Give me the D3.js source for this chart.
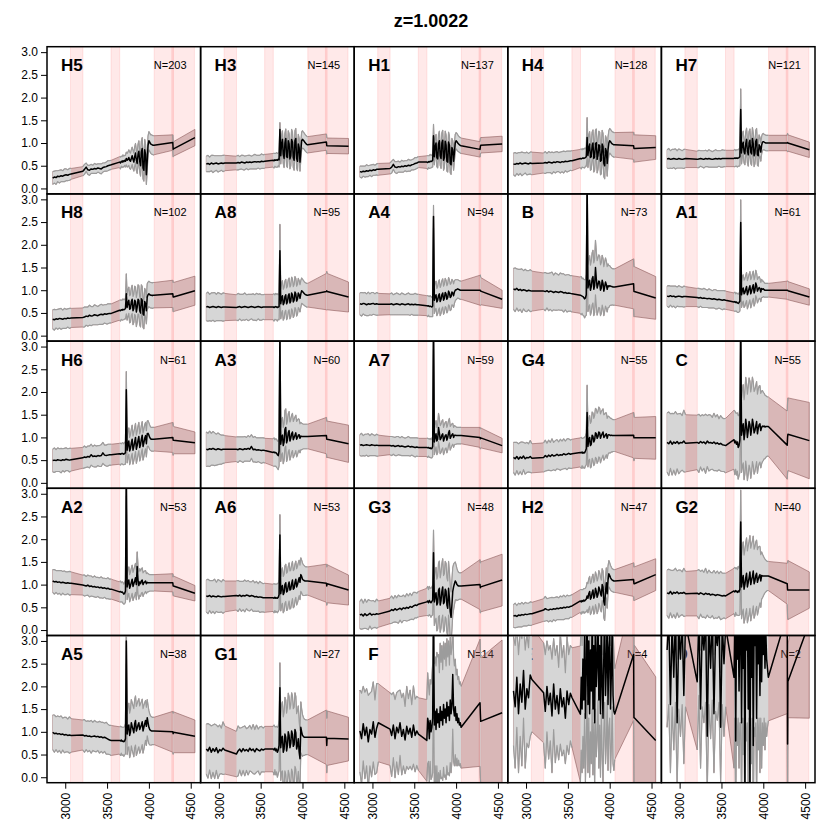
<!DOCTYPE html>
<html><head><meta charset="utf-8">
<script src="https://cdn.jsdelivr.net/npm/d3@7"></script>
<style>
body{margin:0;background:#fff}
svg{display:block}
text{font-family:"Liberation Sans",Arial,Helvetica,sans-serif}
</style>
</head><body>
<svg id="chart" width="830" height="830"></svg>
<script>
const titleText = "z=1.0022";
const panelNames = ["H5","H3","H1","H4","H7","H8","A8","A4","B","A1","H6","A3","A7","G4","C","A2","A6","G3","H2","G2","A5","G1","F","E","D"];
const panelCounts = [203,145,137,128,121,102,95,94,73,61,61,60,59,55,55,53,53,48,47,40,38,27,14,4,2];
const xTicks = [3000,3500,4000,4500];
const yTicks = [0,0.5,1,1.5,2,2.5,3];
const maskBands = [[3063,3211],[3548,3651],[4063,4294],[4274,4544]];
const waveGrid = [2850,2870,2890,2910,2930,2950,2970,2990,3010,3030,3050,3070,
3210,3230,3250,3270,3290,3310,3330,3350,3370,3390,3410,3430,3450,3470,3490,3510,3530,3550,
3650,3660,3670,3680,3690,3700,3710,3720,3730,3740,3750,3760,3770,3780,3790,3800,3810,3820,3830,3840,3850,3860,3870,3880,3890,3900,3910,3920,3930,3940,3950,3960,3970,3980,3990,4000,4010,4020,4030,4040,4050,4060,
4286,4290,4294,4550];
const segmentRanges = [[0,11],[12,29],[30,71],[72,74]];

const mean_H5=[0.23,0.25,0.24,0.27,0.26,0.28,0.27,0.29,0.30,0.29,0.31,0.32,
0.38,0.42,0.47,0.41,0.40,0.43,0.42,0.44,0.43,0.45,0.44,0.43,0.46,0.47,0.48,0.50,0.51,0.52,
0.58,0.56,0.60,0.58,0.61,0.59,0.62,0.60,0.66,
0.62,0.64,0.68,0.62,0.60,0.66,0.72,0.64,0.58,0.70,0.78,0.62,0.55,0.75,0.82,0.60,0.50,0.80,0.88,0.45,0.40,0.85,0.75,0.30,0.60,0.95,1.05,1.02,0.98,0.97,0.96,0.95,0.95,
1.01,0.86,0.87,1.12];
const sd_H5=[.14,.13,.15,.12,.14,.13,.12,.14,.13,.12,.13,.12,
.10,.11,.09,.10,.11,.10,.09,.11,.10,.09,.10,.11,.10,.09,.10,.11,.10,.10,
.12,.13,.11,.12,.13,.12,.11,.13,.14,
.15,.16,.17,.18,.18,.19,.19,.20,.20,.21,.21,.22,.22,.22,.23,.23,.23,.24,.24,.24,.24,.23,.22,.21,.20,.20,.20,.20,.20,.21,.21,.21,.21,
.17,.16,.16,.18];

const mean_H3=[0.54,0.55,0.53,0.56,0.54,0.55,0.56,0.54,0.55,0.56,0.55,0.56,
0.56,0.57,0.56,0.58,0.57,0.56,0.58,0.57,0.58,0.57,0.58,0.59,0.58,0.59,0.58,0.60,0.59,0.60,
0.62,0.61,0.63,0.62,0.63,0.62,0.64,0.63,1.30,
0.72,0.98,1.08,0.75,0.66,1.00,1.10,0.70,0.68,1.05,0.98,0.65,0.72,1.08,1.02,0.68,0.62,1.05,1.10,0.66,0.60,0.98,0.90,0.58,0.82,1.05,1.08,1.06,1.04,1.01,0.99,0.97,0.96,
1.02,0.94,0.94,0.93];
const sd_H3=[.17,.18,.16,.17,.19,.17,.16,.18,.17,.16,.18,.17,
.15,.16,.14,.15,.16,.15,.14,.16,.15,.14,.15,.16,.15,.14,.15,.16,.15,.15,
.15,.16,.14,.15,.16,.15,.14,.16,.15,
.18,.19,.19,.20,.20,.21,.21,.21,.22,.22,.22,.22,.22,.22,.22,.22,.22,.22,.22,.21,.21,.21,.20,.20,.20,.19,.19,.18,.18,.18,.18,.18,.18,
.18,.18,.17,.17];

const mean_H1=[0.37,0.36,0.38,0.37,0.39,0.38,0.40,0.39,0.41,0.40,0.42,0.42,
0.44,0.47,0.53,0.47,0.46,0.48,0.47,0.49,0.48,0.50,0.49,0.51,0.50,0.52,0.53,0.55,0.56,0.58,
0.58,0.57,0.59,0.58,0.60,0.59,0.60,0.62,1.16,
0.70,0.92,1.00,0.68,0.65,0.98,1.05,0.72,0.66,1.00,1.06,0.62,0.68,1.04,0.96,0.60,0.58,1.02,0.95,0.55,0.52,0.90,0.85,0.60,0.80,1.00,1.05,1.03,1.00,0.98,0.96,0.95,0.94,
0.86,0.92,0.95,0.98];
const sd_H1=[.12,.13,.11,.12,.13,.12,.11,.13,.12,.11,.12,.13,
.12,.13,.11,.12,.13,.12,.11,.13,.12,.11,.12,.13,.12,.11,.12,.13,.12,.12,
.14,.15,.13,.14,.15,.14,.13,.15,.25,
.18,.19,.19,.20,.20,.21,.21,.21,.22,.22,.22,.22,.22,.22,.22,.22,.22,.22,.21,.21,.21,.20,.20,.20,.19,.19,.18,.18,.18,.17,.17,.17,.17,
.17,.17,.17,.17];

const mean_H4=[0.54,0.53,0.55,0.54,0.56,0.54,0.55,0.56,0.55,0.54,0.56,0.55,
0.56,0.57,0.56,0.58,0.57,0.56,0.58,0.57,0.59,0.58,0.57,0.59,0.58,0.60,0.59,0.60,0.61,0.61,
0.66,0.65,0.66,0.67,0.66,0.67,0.68,0.70,1.12,
0.72,0.90,0.98,0.68,0.70,0.95,1.00,0.66,0.70,0.98,1.01,0.64,0.72,0.96,0.94,0.60,0.62,0.98,0.92,0.55,0.50,0.88,0.82,0.55,0.85,1.00,1.05,1.03,1.00,0.98,0.97,0.96,0.96,
0.94,0.88,0.88,0.90];
const sd_H4=[.24,.26,.22,.25,.23,.26,.24,.22,.25,.23,.24,.25,
.22,.24,.21,.23,.22,.24,.21,.23,.22,.21,.23,.22,.24,.21,.23,.22,.21,.22,
.20,.22,.19,.21,.20,.22,.19,.21,.44,
.26,.27,.27,.28,.28,.29,.29,.30,.30,.30,.30,.30,.30,.30,.30,.30,.30,.30,.29,.29,.29,.28,.28,.28,.28,.27,.27,.27,.27,.27,.27,.27,.27,
.30,.30,.30,.26];

const mean_H7=[0.65,0.66,0.64,0.65,0.66,0.65,0.64,0.66,0.65,0.64,0.65,0.66,
0.64,0.65,0.66,0.65,0.64,0.66,0.65,0.66,0.65,0.64,0.65,0.66,0.65,0.66,0.65,0.66,0.66,0.66,
0.66,0.67,0.66,0.67,0.66,0.67,0.68,0.70,1.74,
0.78,0.95,1.02,0.80,0.76,0.98,1.08,0.82,0.74,1.00,1.06,0.80,0.76,1.10,0.98,0.72,0.78,1.04,1.08,0.74,0.72,0.96,0.92,0.80,0.95,1.02,1.03,1.02,1.01,1.00,1.00,1.00,1.00,
1.00,1.01,1.00,0.85];
const sd_H7=[.20,.22,.19,.21,.20,.22,.19,.21,.20,.19,.21,.20,
.18,.19,.17,.18,.19,.18,.17,.19,.18,.17,.18,.19,.18,.17,.18,.19,.18,.18,
.18,.19,.17,.18,.19,.18,.19,.20,.45,
.24,.24,.24,.24,.24,.25,.25,.25,.25,.25,.25,.25,.25,.24,.24,.24,.24,.24,.24,.23,.23,.22,.21,.20,.19,.18,.18,.17,.17,.17,.17,.17,.17,
.17,.20,.18,.17];

const mean_H8=[0.36,0.35,0.37,0.36,0.38,0.37,0.36,0.38,0.37,0.39,0.38,0.39,
0.40,0.41,0.43,0.42,0.45,0.43,0.44,0.46,0.45,0.44,0.46,0.47,0.46,0.48,0.47,0.48,0.49,0.49,
0.56,0.55,0.57,0.56,0.58,0.57,0.58,0.60,0.92,
0.62,0.72,0.78,0.58,0.60,0.75,0.80,0.55,0.60,0.78,0.75,0.52,0.62,0.80,0.78,0.55,0.50,0.81,0.78,0.48,0.45,0.75,0.70,0.55,0.85,0.90,0.92,0.90,0.89,0.89,0.88,0.89,0.89,
0.92,0.85,0.85,0.99];
const sd_H8=[.21,.23,.20,.22,.21,.23,.20,.22,.21,.20,.22,.21,
.21,.22,.20,.21,.22,.21,.20,.22,.21,.20,.21,.22,.21,.20,.21,.22,.21,.21,
.22,.23,.21,.22,.23,.22,.21,.23,.44,
.28,.29,.29,.30,.30,.30,.31,.31,.31,.31,.32,.32,.32,.32,.32,.31,.31,.31,.30,.30,.30,.29,.29,.29,.29,.28,.28,.28,.28,.28,.28,.28,.28,
.30,.32,.32,.32];

const mean_A8=[0.63,0.64,0.62,0.63,0.64,0.63,0.62,0.64,0.63,0.62,0.63,0.63,
0.62,0.63,0.64,0.62,0.63,0.64,0.63,0.62,0.63,0.64,0.63,0.62,0.63,0.64,0.63,0.62,0.63,0.63,
0.63,0.62,0.63,0.64,0.63,0.62,0.63,0.64,1.87,
0.70,0.82,0.88,0.68,0.72,0.86,0.90,0.70,0.74,0.88,0.92,0.72,0.76,0.94,0.90,0.74,0.78,0.96,0.92,0.76,0.80,0.94,0.90,0.82,0.92,0.99,0.97,0.95,0.93,0.91,0.90,0.89,0.89,
0.97,0.99,0.97,0.85];
const sd_A8=[.30,.32,.29,.31,.30,.32,.29,.31,.30,.29,.31,.30,
.28,.30,.27,.29,.28,.30,.27,.29,.28,.27,.29,.28,.30,.27,.29,.28,.27,.28,
.28,.30,.27,.29,.28,.30,.27,.29,.58,
.33,.33,.33,.34,.34,.34,.34,.35,.35,.35,.35,.35,.35,.35,.35,.34,.34,.34,.34,.33,.33,.32,.31,.30,.29,.28,.27,.27,.26,.26,.26,.26,.26,
.40,.42,.40,.33];

const mean_A4=[0.70,0.69,0.71,0.70,0.68,0.70,0.69,0.70,0.71,0.69,0.70,0.69,
0.69,0.70,0.68,0.69,0.70,0.69,0.68,0.70,0.69,0.68,0.69,0.70,0.68,0.69,0.68,0.69,0.68,0.68,
0.66,0.65,0.66,0.64,0.65,0.64,0.63,0.65,2.62,
0.78,0.86,0.90,0.74,0.78,0.88,0.92,0.75,0.80,0.90,0.94,0.78,0.82,0.95,0.92,0.80,0.84,0.98,0.94,0.84,0.86,0.96,0.94,0.88,0.96,1.00,1.01,1.02,1.03,1.02,1.01,1.00,1.00,
1.00,1.00,0.98,0.80];
const sd_A4=[.24,.26,.23,.25,.24,.26,.23,.25,.24,.23,.25,.24,
.23,.24,.22,.23,.24,.23,.22,.24,.23,.22,.23,.24,.23,.22,.23,.24,.23,.23,
.22,.23,.21,.22,.23,.22,.21,.23,.25,
.29,.29,.30,.30,.30,.31,.31,.31,.31,.31,.31,.31,.31,.31,.30,.30,.30,.30,.29,.29,.29,.28,.27,.26,.25,.23,.22,.21,.20,.20,.20,.20,.20,
.33,.33,.30,.20];

const mean_B=[1.03,1.01,1.04,1.00,1.02,0.99,1.01,1.00,0.98,1.00,0.99,0.98,
0.98,0.97,0.99,0.96,0.98,0.97,0.95,0.97,0.96,0.95,0.97,0.96,0.94,0.95,0.93,0.94,0.93,0.92,
0.89,0.88,0.87,0.86,0.84,0.81,0.83,0.90,3.40,
1.05,1.15,1.22,1.00,1.08,1.25,1.30,1.02,1.10,1.50,1.25,1.05,1.12,1.20,1.18,1.00,1.05,1.22,1.15,0.98,1.08,1.18,1.12,1.02,1.10,1.08,1.10,1.09,1.08,1.08,1.07,1.07,1.07,
1.14,0.97,0.97,0.83];
const sd_B=[.45,.48,.43,.46,.44,.48,.42,.46,.45,.43,.46,.44,
.40,.42,.38,.41,.40,.43,.38,.41,.40,.38,.41,.40,.42,.38,.41,.40,.39,.40,
.40,.42,.38,.41,.40,.42,.40,.45,.60,
.52,.53,.54,.55,.56,.57,.58,.58,.59,.60,.60,.60,.59,.58,.57,.56,.56,.55,.55,.54,.54,.53,.52,.50,.48,.46,.44,.42,.41,.40,.40,.40,.40,
.55,.55,.55,.47];

const mean_A1=[0.87,0.86,0.88,0.86,0.87,0.85,0.86,0.87,0.86,0.85,0.86,0.86,
0.84,0.83,0.84,0.82,0.83,0.82,0.81,0.82,0.81,0.80,0.81,0.80,0.79,0.80,0.79,0.78,0.79,0.78,
0.74,0.75,0.73,0.74,0.72,0.71,0.73,0.76,2.49,
0.90,1.00,1.05,0.92,0.95,1.02,1.08,0.90,0.96,1.04,1.10,0.92,0.98,1.06,1.12,0.94,1.00,1.16,1.10,0.98,1.02,1.06,1.04,0.96,1.04,1.02,1.03,1.01,1.00,1.00,1.00,1.00,1.00,
1.00,1.00,0.99,0.85];
const sd_A1=[.22,.24,.21,.23,.22,.24,.21,.23,.22,.21,.23,.22,
.20,.21,.19,.20,.21,.20,.19,.21,.20,.19,.20,.21,.20,.19,.20,.21,.20,.20,
.20,.21,.19,.20,.21,.20,.21,.22,.50,
.28,.29,.29,.30,.30,.30,.31,.31,.31,.31,.31,.31,.30,.30,.30,.29,.29,.28,.27,.26,.25,.24,.22,.21,.20,.18,.17,.16,.15,.15,.15,.15,.15,
.20,.20,.20,.18];

const mean_H6=[0.49,0.50,0.49,0.51,0.50,0.49,0.51,0.50,0.52,0.51,0.50,0.51,
0.55,0.57,0.56,0.58,0.57,0.62,0.58,0.59,0.58,0.60,0.59,0.60,0.66,0.61,0.60,0.61,0.62,0.62,
0.64,0.63,0.64,0.65,0.64,0.63,0.65,0.66,2.05,
0.72,0.85,0.92,0.70,0.76,0.88,0.96,0.72,0.80,0.90,1.00,0.74,0.82,0.94,1.02,0.78,0.84,0.96,1.05,0.80,0.88,0.98,1.04,0.86,1.08,1.09,1.05,1.00,0.97,0.96,0.96,0.96,0.96,
1.00,0.94,0.94,0.88];
const sd_H6=[.25,.27,.24,.26,.25,.27,.24,.26,.25,.24,.26,.25,
.23,.24,.22,.23,.24,.23,.22,.24,.23,.22,.23,.24,.23,.22,.23,.24,.23,.23,
.23,.24,.22,.23,.24,.23,.24,.25,.40,
.28,.29,.29,.30,.30,.30,.31,.31,.31,.31,.31,.31,.31,.31,.31,.30,.30,.30,.30,.30,.30,.30,.29,.29,.28,.28,.27,.27,.26,.26,.26,.26,.26,
.33,.33,.30,.24];

const mean_A3=[0.74,0.73,0.75,0.74,0.76,0.74,0.73,0.75,0.74,0.73,0.74,0.74,
0.74,0.73,0.75,0.74,0.73,0.75,0.74,0.76,0.74,0.80,0.73,0.74,0.72,0.73,0.72,0.71,0.72,0.71,
0.67,0.68,0.66,0.67,0.65,0.62,0.60,0.70,3.40,
0.85,1.00,1.05,0.82,0.90,1.18,1.22,0.88,0.95,1.10,1.15,0.92,0.98,1.08,1.12,0.95,1.00,1.05,1.10,0.96,1.00,1.05,1.06,0.98,1.03,1.02,1.02,1.02,1.02,1.02,1.02,1.02,1.02,
1.04,0.96,0.96,0.86];
const sd_A3=[.38,.36,.39,.35,.37,.36,.34,.35,.33,.32,.31,.30,
.27,.28,.26,.27,.28,.27,.26,.28,.27,.26,.27,.28,.27,.26,.27,.28,.27,.27,
.30,.31,.29,.30,.31,.30,.31,.32,.45,
.38,.39,.39,.40,.40,.41,.41,.41,.42,.42,.42,.42,.41,.41,.41,.40,.40,.40,.39,.39,.38,.36,.34,.32,.30,.29,.28,.27,.27,.27,.27,.27,.27,
.40,.40,.40,.41];

const mean_A7=[0.83,0.84,0.82,0.83,0.84,0.83,0.82,0.84,0.83,0.82,0.83,0.82,
0.82,0.81,0.82,0.80,0.81,0.82,0.80,0.81,0.80,0.79,0.80,0.81,0.79,0.80,0.79,0.78,0.79,0.78,
0.78,0.77,0.78,0.76,0.77,0.75,0.76,0.80,3.40,
0.90,1.00,1.08,0.92,0.96,1.22,1.10,0.95,0.98,1.05,1.08,0.92,0.98,1.04,1.06,0.94,1.00,1.10,1.15,0.98,1.02,1.06,1.08,1.00,1.05,1.05,1.04,1.04,1.04,1.04,1.04,1.04,1.04,
1.00,0.97,0.99,0.82];
const sd_A7=[.23,.25,.22,.24,.23,.25,.22,.24,.23,.22,.24,.23,
.20,.21,.19,.20,.21,.20,.19,.21,.20,.19,.20,.21,.20,.19,.20,.21,.20,.20,
.20,.21,.19,.20,.21,.20,.21,.22,.45,
.28,.29,.29,.30,.30,.31,.31,.31,.31,.31,.31,.30,.30,.29,.29,.28,.28,.27,.27,.26,.25,.24,.23,.22,.21,.20,.19,.18,.18,.18,.18,.18,.18,
.22,.22,.22,.16];

const mean_G4=[0.56,0.53,0.58,0.52,0.57,0.54,0.59,0.53,0.56,0.55,0.58,0.54,
0.56,0.60,0.57,0.61,0.58,0.62,0.59,0.60,0.63,0.60,0.62,0.61,0.64,0.62,0.63,0.65,0.63,0.64,
0.67,0.66,0.68,0.65,0.67,0.66,0.70,0.75,1.55,
0.80,0.95,1.00,0.82,0.85,1.05,1.02,0.90,0.95,1.10,1.08,0.98,1.02,1.12,1.10,0.98,1.04,1.08,1.12,1.00,1.02,1.06,1.08,0.98,1.05,1.06,1.05,1.04,1.05,1.04,1.04,1.04,1.04,
1.05,0.99,0.99,0.99];
const sd_G4=[.33,.36,.31,.34,.32,.36,.30,.34,.33,.31,.35,.32,
.32,.34,.30,.33,.31,.35,.30,.33,.32,.30,.34,.31,.33,.30,.34,.32,.31,.32,
.32,.34,.30,.33,.32,.34,.33,.35,.60,
.45,.46,.48,.49,.50,.51,.52,.52,.53,.54,.54,.55,.55,.55,.54,.54,.53,.52,.51,.50,.49,.48,.46,.44,.42,.40,.39,.38,.37,.36,.35,.35,.35,
.50,.50,.45,.47];

const mean_C=[0.89,0.86,0.92,0.85,0.90,0.87,0.91,0.86,0.89,0.88,0.92,0.87,
0.89,0.87,0.91,0.88,0.90,0.86,0.92,0.88,0.89,0.87,0.90,0.86,0.88,0.85,0.87,0.84,0.83,0.82,
0.95,0.88,0.92,0.85,0.90,0.78,0.82,0.95,3.40,
1.05,1.20,1.30,0.95,1.10,1.40,1.25,1.00,1.15,1.35,1.28,1.05,1.18,1.40,1.30,1.10,1.15,1.25,1.35,1.08,1.20,1.28,1.30,1.15,1.22,1.25,1.24,1.25,1.23,1.24,1.24,1.24,1.24,
0.83,1.00,1.07,0.93];
const sd_C=[.65,.70,.60,.68,.62,.70,.60,.66,.64,.60,.68,.63,
.60,.64,.56,.62,.58,.65,.56,.62,.60,.57,.63,.59,.62,.56,.61,.59,.58,.60,
.65,.70,.62,.68,.64,.70,.66,.72,.90,
.82,.84,.86,.88,.90,.92,.94,.95,.96,.96,.96,.95,.94,.93,.92,.91,.90,.89,.88,.87,.86,.85,.84,.82,.80,.78,.75,.72,.70,.68,.66,.65,.65,
.75,.78,.80,.84];

const mean_A2=[1.08,1.06,1.07,1.05,1.06,1.04,1.05,1.04,1.03,1.04,1.03,1.03,
0.99,0.98,0.97,0.99,0.96,0.97,0.95,0.96,0.94,0.95,0.93,0.94,0.92,0.93,0.91,0.92,0.90,0.90,
0.84,0.85,0.83,0.84,0.82,0.79,0.81,0.86,3.40,
0.95,1.05,1.10,0.92,0.98,1.05,1.12,0.96,1.02,1.08,1.15,1.00,1.40,1.10,0.98,1.06,1.02,1.08,1.10,1.00,1.04,1.06,1.08,1.02,1.05,1.04,1.04,1.04,1.04,1.04,1.04,1.04,1.04,
1.04,0.97,0.97,0.81];
const sd_A2=[.25,.27,.24,.26,.25,.27,.24,.26,.25,.24,.26,.25,
.22,.23,.21,.22,.23,.22,.21,.23,.22,.21,.22,.23,.22,.21,.22,.23,.22,.22,
.22,.23,.21,.22,.23,.22,.23,.24,.45,
.28,.29,.29,.30,.30,.31,.31,.31,.31,.32,.32,.33,.32,.31,.30,.29,.28,.27,.27,.26,.25,.24,.23,.22,.21,.20,.19,.18,.18,.18,.18,.18,.18,
.20,.20,.22,.17];

const mean_A6=[0.75,0.74,0.76,0.73,0.75,0.74,0.73,0.75,0.74,0.73,0.74,0.74,
0.76,0.75,0.77,0.74,0.76,0.75,0.77,0.76,0.74,0.76,0.75,0.73,0.74,0.72,0.73,0.72,0.71,0.71,
0.71,0.70,0.72,0.70,0.71,0.70,0.72,0.78,2.09,
0.80,0.92,0.98,0.78,0.82,1.00,1.04,0.84,0.86,0.98,1.06,0.88,0.90,1.02,1.10,0.90,0.92,1.05,1.12,0.95,1.00,1.08,1.15,1.05,1.22,1.18,1.12,1.10,1.09,1.08,1.08,1.08,1.08,
1.03,0.97,1.02,0.88];
const sd_A6=[.35,.38,.33,.36,.34,.38,.32,.36,.35,.33,.37,.34,
.32,.34,.30,.33,.31,.35,.30,.33,.32,.30,.34,.31,.33,.30,.34,.32,.31,.32,
.30,.32,.29,.31,.30,.32,.31,.33,.45,
.38,.39,.39,.40,.40,.41,.41,.41,.42,.42,.42,.42,.42,.42,.41,.41,.41,.40,.40,.40,.40,.40,.39,.38,.37,.36,.35,.34,.33,.32,.31,.31,.31,
.42,.42,.42,.33];

const mean_G3=[0.33,0.35,0.31,0.36,0.32,0.34,0.37,0.33,0.35,0.34,0.36,0.35,
0.42,0.45,0.43,0.47,0.44,0.46,0.48,0.45,0.49,0.47,0.50,0.48,0.52,0.50,0.53,0.55,0.54,0.57,
0.62,0.64,0.60,0.65,0.62,0.60,0.63,0.66,1.70,
0.62,0.75,0.82,0.55,0.60,0.88,0.92,0.55,0.65,0.85,0.95,0.58,0.62,0.90,0.86,0.55,0.48,0.92,0.70,0.40,0.28,0.55,0.85,0.95,1.02,1.08,1.05,1.00,0.98,0.97,0.97,0.97,0.97,
1.00,0.93,0.95,1.10];
const sd_G3=[.30,.33,.28,.32,.29,.33,.28,.31,.30,.28,.32,.29,
.28,.30,.26,.29,.27,.31,.26,.29,.28,.26,.30,.27,.29,.26,.30,.28,.27,.28,
.30,.32,.29,.31,.30,.32,.31,.33,.50,
.52,.54,.56,.57,.58,.59,.60,.60,.61,.61,.62,.62,.62,.61,.61,.60,.60,.59,.58,.57,.56,.54,.52,.50,.46,.42,.38,.35,.32,.30,.29,.29,.29,
.55,.55,.55,.57];

const mean_H2=[0.31,0.32,0.30,0.33,0.32,0.34,0.33,0.35,0.34,0.35,0.36,0.36,
0.44,0.47,0.45,0.44,0.46,0.45,0.47,0.46,0.48,0.47,0.49,0.48,0.50,0.49,0.51,0.50,0.52,0.53,
0.64,0.62,0.65,0.63,0.66,0.64,0.66,0.68,0.75,
0.70,0.80,0.85,0.68,0.72,0.82,0.88,0.70,0.75,0.92,0.85,0.72,0.78,0.95,0.90,0.80,0.75,1.00,0.95,0.62,0.55,0.85,1.04,0.80,1.10,1.24,1.20,1.15,1.12,1.10,1.09,1.08,1.08,
1.11,1.02,1.02,1.22];
const sd_H2=[.25,.27,.24,.26,.25,.27,.24,.26,.25,.24,.26,.25,
.25,.27,.24,.26,.25,.27,.24,.26,.25,.24,.26,.25,.27,.24,.26,.25,.24,.25,
.25,.27,.24,.26,.25,.27,.26,.28,.30,
.32,.33,.33,.34,.34,.35,.35,.35,.36,.36,.36,.36,.36,.36,.36,.36,.35,.35,.35,.35,.34,.34,.33,.32,.30,.29,.28,.27,.26,.25,.25,.25,.25,
.37,.37,.37,.35];

const mean_G2=[0.82,0.80,0.85,0.79,0.83,0.81,0.84,0.80,0.82,0.81,0.83,0.80,
0.81,0.79,0.82,0.80,0.78,0.81,0.79,0.80,0.77,0.79,0.78,0.76,0.78,0.77,0.76,0.75,0.76,0.75,
0.86,0.84,0.87,0.85,0.83,0.86,0.84,0.90,2.38,
0.95,1.10,1.20,0.90,1.00,1.15,1.25,0.95,1.05,1.15,1.28,1.00,1.10,1.18,1.30,1.02,1.08,1.20,1.25,1.05,1.12,1.18,1.22,1.08,1.20,1.19,1.19,1.19,1.19,1.19,1.19,1.19,1.19,
1.02,0.88,0.88,0.88];
const sd_G2=[.50,.54,.47,.52,.49,.55,.46,.52,.50,.47,.53,.49,
.50,.54,.47,.52,.49,.55,.46,.52,.50,.47,.53,.49,.52,.47,.53,.50,.49,.50,
.50,.54,.48,.52,.50,.54,.52,.56,.70,
.70,.72,.74,.75,.76,.77,.78,.79,.80,.80,.80,.80,.79,.78,.77,.76,.75,.74,.73,.72,.70,.66,.62,.58,.52,.48,.44,.40,.37,.35,.33,.32,.32,
.45,.60,.65,.40];

const mean_A5=[0.99,0.96,0.97,0.95,0.96,0.94,0.95,0.93,0.94,0.92,0.93,0.92,
0.93,0.91,0.92,0.90,0.91,0.89,0.90,0.91,0.89,0.90,0.88,0.89,0.87,0.88,0.86,0.84,0.82,0.81,
0.81,0.80,0.82,0.79,0.80,0.78,0.80,0.85,3.00,
0.95,1.10,1.15,0.92,1.00,1.20,1.12,1.05,0.98,1.18,1.25,1.02,1.08,1.15,1.20,1.05,1.10,1.15,1.22,1.02,1.10,1.18,1.25,1.12,1.31,1.20,1.10,1.05,1.03,1.02,1.02,1.02,1.02,
1.00,0.96,0.99,0.90];
const sd_A5=[.38,.41,.36,.40,.37,.41,.35,.39,.38,.36,.40,.37,
.33,.36,.31,.34,.32,.36,.31,.34,.33,.31,.35,.32,.34,.31,.35,.33,.32,.33,
.30,.32,.29,.31,.30,.32,.31,.33,.50,
.45,.46,.48,.49,.50,.51,.52,.52,.53,.53,.54,.54,.54,.53,.53,.52,.52,.51,.50,.49,.48,.46,.44,.42,.40,.38,.36,.34,.32,.31,.30,.30,.30,
.45,.45,.45,.36];

const mean_G1=[0.62,0.58,0.66,0.55,0.63,0.57,0.65,0.54,0.61,0.58,0.64,0.60,
0.51,0.58,0.62,0.56,0.63,0.58,0.61,0.57,0.64,0.59,0.62,0.56,0.63,0.60,0.58,0.62,0.60,0.62,
0.62,0.60,0.64,0.58,0.62,0.55,0.60,0.70,1.97,
0.65,0.85,0.90,0.55,0.62,0.95,0.88,0.58,0.70,1.00,0.92,0.65,0.75,1.02,0.95,0.68,0.72,1.05,0.98,0.62,0.70,0.85,0.55,0.41,1.10,1.00,0.92,0.90,0.88,0.88,0.88,0.88,0.88,
0.88,0.70,0.86,0.84];
const sd_G1=[.55,.60,.50,.58,.52,.60,.50,.57,.54,.50,.58,.53,
.50,.55,.46,.53,.48,.55,.46,.52,.50,.47,.54,.49,.52,.46,.53,.50,.48,.50,
.50,.55,.47,.53,.50,.55,.52,.56,.55,
.72,.74,.76,.78,.80,.81,.82,.83,.84,.85,.85,.85,.85,.84,.84,.83,.82,.81,.80,.78,.76,.72,.68,.62,.56,.50,.46,.42,.40,.39,.38,.38,.38,
.60,.60,.60,.48];

const mean_F=[1.02,0.85,1.18,0.92,1.10,0.78,1.05,0.95,1.22,0.88,1.08,1.20,
1.06,0.92,1.15,0.85,1.10,0.98,1.20,0.90,1.05,0.82,1.12,0.95,1.08,0.88,1.15,0.92,1.02,0.95,
0.81,1.30,1.20,0.85,1.25,1.00,1.10,1.30,3.40,1.15,1.45,1.05,1.50,1.20,1.40,1.10,1.55,1.25,1.45,1.15,1.60,1.30,1.50,1.20,1.65,1.35,1.55,1.25,1.70,1.40,1.60,2.26,1.50,1.35,1.55,1.25,1.40,1.20,1.30,1.15,1.20,1.10,
1.64,1.40,1.23,1.42];
const sd_F=[.90,1.00,.82,.95,.85,1.02,.80,.94,.88,.82,.98,.86,
.80,.90,.72,.86,.76,.92,.72,.85,.80,.74,.88,.78,.84,.72,.86,.80,.76,.80,
.90,1.00,.85,.96,.90,1.05,1.10,1.20,1.30,1.35,1.20,1.40,1.25,1.45,1.30,1.20,1.40,1.28,1.45,1.22,1.38,1.30,1.45,1.25,1.40,1.30,1.45,1.22,1.38,1.30,1.25,1.20,1.15,1.10,1.05,1.00,.98,.95,.92,.90,.90,.90,
1.40,1.40,1.40,1.60];

const mean_E=[1.90,1.55,2.20,1.40,2.05,1.65,2.35,1.50,1.95,1.75,2.25,2.15,
1.86,1.45,2.00,1.60,1.85,1.35,2.05,1.50,1.80,1.40,1.95,1.55,1.75,1.30,1.90,1.60,1.85,1.75,
1.39,2.20,1.50,2.60,1.70,3.20,1.30,2.40,3.60,1.60,3.00,1.40,2.80,1.90,3.40,1.50,2.90,1.20,3.30,2.00,2.50,3.60,1.70,2.90,1.40,3.20,2.10,1.30,2.70,3.50,1.80,2.40,3.60,1.60,2.80,3.10,1.50,2.30,3.40,1.80,1.45,1.39,
2.70,1.31,1.31,0.81];
const sd_E=[1.20,1.35,1.10,1.30,1.15,1.40,1.05,1.30,1.20,1.10,1.35,1.15,
1.10,1.25,1.00,1.20,1.05,1.25,1.00,1.18,1.10,1.02,1.22,1.08,1.15,1.00,1.20,1.10,1.05,1.10,
1.50,1.60,1.40,1.70,1.50,1.80,1.40,1.60,1.90,1.50,1.70,1.40,1.80,1.60,1.90,1.45,1.70,1.40,1.80,1.55,1.65,1.90,1.50,1.75,1.40,1.80,1.60,1.40,1.70,1.85,1.50,1.65,1.90,1.45,1.70,1.80,1.40,1.60,1.85,1.50,1.30,1.00,
1.45,1.45,1.60,1.40];

const mean_D=[2.80,3.50,1.60,3.40,2.20,3.60,1.20,3.30,2.60,3.50,1.80,3.40,
2.10,3.60,1.50,3.30,2.80,3.50,0.90,3.40,2.40,3.60,1.40,3.20,2.90,3.50,1.10,3.40,2.50,3.30,
2.20,3.50,0.80,3.40,2.60,3.60,1.90,3.30,3.60,1.20,3.50,2.40,3.60,-0.20,3.40,2.80,3.60,1.50,3.50,-0.30,3.40,2.20,3.60,0.70,3.30,2.90,3.60,1.30,3.50,2.50,3.40,1.80,3.60,2.10,3.30,2.70,3.50,2.40,3.20,2.60,2.40,2.20,
3.60,0.73,2.11,3.40];
const sd_D=[1.70,1.90,1.50,1.85,1.60,1.95,1.40,1.80,1.70,1.90,1.50,1.85,
1.50,1.80,1.30,1.75,1.60,1.85,1.20,1.80,1.55,1.90,1.30,1.75,1.65,1.85,1.20,1.80,1.60,1.75,
2.00,2.20,1.80,2.10,1.90,2.30,1.70,2.10,2.40,1.80,2.20,1.90,2.30,1.60,2.20,2.00,2.40,1.70,2.20,1.60,2.10,1.90,2.30,1.70,2.20,2.00,2.40,1.80,2.20,1.90,2.10,1.70,2.30,1.90,2.10,2.00,2.20,1.80,2.00,1.70,1.30,0.96,
2.20,2.00,0.80,2.10];

const panelMeans=[mean_H5,mean_H3,mean_H1,mean_H4,mean_H7,mean_H8,mean_A8,mean_A4,mean_B,mean_A1,mean_H6,mean_A3,mean_A7,mean_G4,mean_C,mean_A2,mean_A6,mean_G3,mean_H2,mean_G2,mean_A5,mean_G1,mean_F,mean_E,mean_D];
const panelSds=[sd_H5,sd_H3,sd_H1,sd_H4,sd_H7,sd_H8,sd_A8,sd_A4,sd_B,sd_A1,sd_H6,sd_A3,sd_A7,sd_G4,sd_C,sd_A2,sd_A6,sd_G3,sd_H2,sd_G2,sd_A5,sd_G1,sd_F,sd_E,sd_D];

// ---- layout ----
const plotLeft = 47, plotTop = 46.7, plotRight = 815, plotBottom = 782.7;
const nCols = 5, nRows = 5;
const pw = (plotRight - plotLeft) / nCols;
const ph = (plotBottom - plotTop) / nRows;

panelMeans.forEach((m,i)=>{
  if (m.length !== waveGrid.length) throw new Error("mean length mismatch " + panelNames[i] + " " + m.length);
  if (panelSds[i].length !== waveGrid.length) throw new Error("sd length mismatch " + panelNames[i] + " " + panelSds[i].length);
});

const svg = d3.select("#chart");
const x = d3.scaleLinear().domain([2782, 4618]).range([0, pw]);
const y = d3.scaleLinear().domain([-0.12, 3.12]).range([ph, 0]);

svg.append("text").attr("x", (plotLeft + plotRight) / 2).attr("y", 27)
  .attr("text-anchor", "middle").attr("font-weight", "bold").attr("font-size", 18)
  .text(titleText);

panelNames.forEach((name, i) => {
  const r = Math.floor(i / nCols), c = i % nCols;
  const g = svg.append("g").attr("transform", `translate(${plotLeft + c * pw},${plotTop + r * ph})`);
  const cid = "clip" + i;
  g.append("clipPath").attr("id", cid).append("rect").attr("width", pw).attr("height", ph);
  const inner = g.append("g").attr("clip-path", `url(#${cid})`);

  inner.selectAll("rect.mask").data(maskBands).join("rect").attr("class", "mask")
    .attr("x", d => x(d[0])).attr("width", d => x(d[1]) - x(d[0]))
    .attr("y", -2).attr("height", ph + 4)
    .attr("fill", "rgba(255,0,0,0.085)").attr("stroke", "rgba(255,60,60,0.12)").attr("stroke-width", 1);

  inner.append("text").attr("x", 14).attr("y", 24.5).attr("font-weight", "bold").attr("font-size", 17).text(name);
  inner.append("text").attr("x", pw - 14).attr("y", 22.5).attr("text-anchor", "end").attr("font-size", 11).text("N=" + panelCounts[i]);

  const mean = panelMeans[i], sd = panelSds[i];
  const pts = waveGrid.map((w, k) => ({w, m: mean[k], s: sd[k]}));

  const band = d3.area().x(d => x(d.w)).y0(d => y(d.m - d.s)).y1(d => y(d.m + d.s));
  inner.append("path").datum(pts).attr("d", band)
    .attr("fill", "rgba(150,95,95,0.36)").attr("stroke", "rgba(140,90,90,0.6)").attr("stroke-width", 1);

  segmentRanges.forEach(([a, b]) => {
    const seg = pts.slice(a, b + 1);
    inner.append("path").datum(seg).attr("d", band).attr("fill", "#d6d6d6").attr("stroke", "none");
    const up = d3.line().x(d => x(d.w)).y(d => y(d.m + d.s));
    const lo = d3.line().x(d => x(d.w)).y(d => y(d.m - d.s));
    inner.append("path").datum(seg).attr("d", up).attr("fill", "none").attr("stroke", "#9c9c9c").attr("stroke-width", 1.2).attr("stroke-linejoin", "round");
    inner.append("path").datum(seg).attr("d", lo).attr("fill", "none").attr("stroke", "#9c9c9c").attr("stroke-width", 1.2).attr("stroke-linejoin", "round");
  });

  inner.append("path").datum(pts).attr("d", d3.line().x(d => x(d.w)).y(d => y(d.m)))
    .attr("fill", "none").attr("stroke", "#000").attr("stroke-width", 1.5).attr("stroke-linejoin", "round");

  g.append("rect").attr("width", pw).attr("height", ph).attr("fill", "none").attr("stroke", "#000").attr("stroke-width", 1.5);

  if (c === 0) {
    const ax = g.append("g").call(d3.axisLeft(y).tickValues(yTicks).tickFormat(d3.format(".1f")).tickSize(6).tickPadding(3));
    ax.select(".domain").remove();
    ax.selectAll("text").attr("font-size", 12).attr("fill", "#000").style("font-family", '"Liberation Sans",Arial,sans-serif');
    ax.selectAll("line").attr("stroke", "#000");
  }
  if (r === nRows - 1) {
    const ax = g.append("g").attr("transform", `translate(0,${ph})`)
      .call(d3.axisBottom(x).tickValues(xTicks).tickFormat(d3.format("d")).tickSize(6));
    ax.select(".domain").remove();
    ax.selectAll("line").attr("stroke", "#000");
    ax.selectAll("text").attr("font-size", 12).attr("fill", "#000")
      .style("font-family", '"Liberation Sans",Arial,sans-serif')
      .attr("transform", "rotate(-90)").attr("text-anchor", "end")
      .attr("x", -10).attr("y", 0).attr("dy", "0.35em");
  }
});
</script>
</body></html>
